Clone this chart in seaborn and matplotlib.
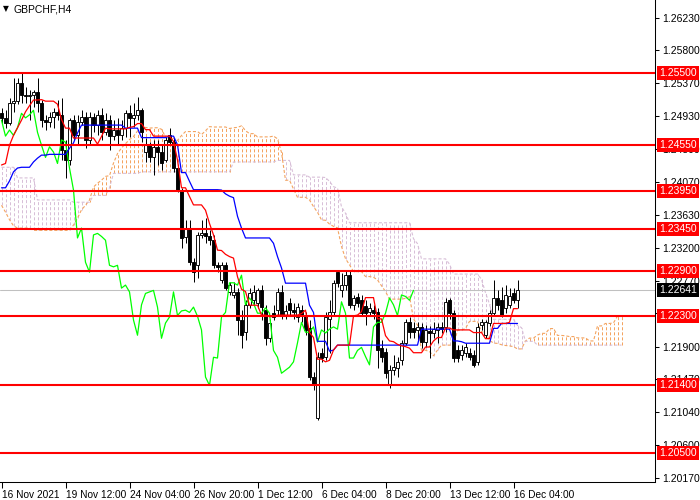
import numpy as np
import pandas as pd
import matplotlib
matplotlib.use("Agg")
import matplotlib.pyplot as plt
import seaborn as sns

sns.set_style("white")
plt.rcParams['font.family'] = ['Liberation Sans', 'DejaVu Sans']
plt.rcParams['lines.scale_dashes'] = False

# ---------------- data (GBPCHF H4) ----------------
opens = [1.2497,1.2491,1.2484,1.2510,1.2513,1.2537,1.2521,1.2520,1.2521,1.2525,
         1.2510,1.2488,1.2485,1.2492,1.2499,1.2495,1.2449,1.2435,1.2488,1.2468,
         1.2485,1.2492,1.2462,1.2492,1.2481,1.2495,1.2472,1.2488,1.2467,1.2475,
         1.2468,1.2478,1.2497,1.2491,1.2495,1.2501,1.2446,1.2455,1.2439,1.2453,
         1.2446,1.2435,1.2468,1.2459,1.2425,1.2396,1.2334,1.2346,1.2301,1.2297,
         1.2337,1.2339,1.2335,1.2330,1.2297,1.2278,1.2297,1.2262,1.2258,1.2262,
         1.2225,1.2209,1.2245,1.2251,1.2247,1.2264,1.2238,1.2201,1.2234,1.2238,
         1.2262,1.2231,1.2247,1.2238,1.2229,1.2238,1.2230,1.2214,1.2150,1.2096,
         1.2181,1.2176,1.2227,1.2235,1.2288,1.2264,1.2271,1.2284,1.2245,1.2255,
         1.2251,1.2243,1.2235,1.2238,1.2235,1.2188,1.2183,1.2139,1.2159,1.2162,
         1.2172,1.2195,1.2222,1.2214,1.2212,1.2216,1.2196,1.2210,1.2208,1.2212,
         1.2216,1.2216,1.2251,1.2234,1.2185,1.2179,1.2181,1.2181,1.2179,1.2170,
         1.2218,1.2205,1.2221,1.2234,1.2254,1.2251,1.2241,1.2245,1.2260,1.2251]
highs = [1.2504,1.2501,1.2517,1.2543,1.2543,1.2551,1.2532,1.2528,1.2528,1.2543,
         1.2514,1.2495,1.2499,1.2504,1.2514,1.2517,1.2462,1.2491,1.2495,1.2495,
         1.2501,1.2499,1.2499,1.2497,1.2501,1.2504,1.2497,1.2495,1.2488,1.2491,
         1.2488,1.2501,1.2508,1.2510,1.2518,1.2504,1.2464,1.2459,1.2462,1.2462,
         1.2455,1.2466,1.2478,1.2464,1.2429,1.2399,1.2357,1.2357,1.2307,1.2341,
         1.2357,1.2359,1.2343,1.2337,1.2301,1.2301,1.2301,1.2275,1.2275,1.2267,
         1.2238,1.2251,1.2267,1.2271,1.2267,1.2271,1.2245,1.2227,1.2245,1.2267,
         1.2271,1.2245,1.2254,1.2247,1.2247,1.2245,1.2235,1.2225,1.2156,1.2183,
         1.2188,1.2235,1.2251,1.2278,1.2291,1.2287,1.2291,1.2291,1.2258,1.2260,
         1.2258,1.2251,1.2247,1.2245,1.2241,1.2199,1.2188,1.2166,1.2179,1.2176,
         1.2199,1.2227,1.2229,1.2222,1.2222,1.2221,1.2218,1.2217,1.2222,1.2221,
         1.2222,1.2254,1.2254,1.2238,1.2192,1.2192,1.2195,1.2188,1.2185,1.2221,
         1.2227,1.2225,1.2238,1.2278,1.2264,1.2268,1.2271,1.2267,1.2267,1.2278]
lows = [1.2484,1.2478,1.2481,1.2499,1.2509,1.2510,1.2510,1.2488,1.2505,1.2499,
        1.2479,1.2475,1.2479,1.2478,1.2488,1.2435,1.2412,1.2429,1.2462,1.2455,
        1.2481,1.2451,1.2455,1.2472,1.2468,1.2462,1.2468,1.2449,1.2462,1.2455,
        1.2462,1.2466,1.2466,1.2479,1.2488,1.2459,1.2433,1.2433,1.2416,1.2429,
        1.2422,1.2433,1.2455,1.2420,1.2393,1.2320,1.2327,1.2297,1.2275,1.2280,
        1.2333,1.2327,1.2324,1.2293,1.2288,1.2274,1.2264,1.2258,1.2254,1.2205,
        1.2188,1.2199,1.2241,1.2245,1.2241,1.2225,1.2192,1.2196,1.2225,1.2231,
        1.2227,1.2227,1.2231,1.2227,1.2222,1.2222,1.2205,1.2146,1.2133,1.2093,
        1.2170,1.2172,1.2181,1.2231,1.2268,1.2255,1.2264,1.2241,1.2238,1.2242,
        1.2231,1.2218,1.2231,1.2227,1.2162,1.2170,1.2149,1.2135,1.2153,1.2150,
        1.2166,1.2192,1.2202,1.2202,1.2199,1.2188,1.2189,1.2175,1.2201,1.2195,
        1.2208,1.2209,1.2227,1.2170,1.2170,1.2172,1.2176,1.2172,1.2163,1.2166,
        1.2212,1.2202,1.2217,1.2231,1.2238,1.2229,1.2234,1.2241,1.2247,1.2241]
closes = [1.2491,1.2484,1.2510,1.2513,1.2537,1.2521,1.2520,1.2521,1.2525,1.2510,
          1.2488,1.2485,1.2492,1.2499,1.2495,1.2449,1.2435,1.2488,1.2468,1.2485,
          1.2492,1.2462,1.2492,1.2481,1.2495,1.2472,1.2488,1.2467,1.2475,1.2468,
          1.2478,1.2497,1.2491,1.2495,1.2501,1.2472,1.2455,1.2439,1.2453,1.2446,
          1.2431,1.2462,1.2459,1.2425,1.2396,1.2333,1.2346,1.2301,1.2288,1.2337,
          1.2339,1.2335,1.2330,1.2297,1.2295,1.2297,1.2267,1.2271,1.2262,1.2225,
          1.2205,1.2245,1.2260,1.2262,1.2264,1.2242,1.2201,1.2221,1.2229,1.2262,
          1.2231,1.2237,1.2238,1.2235,1.2242,1.2230,1.2212,1.2150,1.2139,1.2176,
          1.2175,1.2229,1.2235,1.2274,1.2274,1.2271,1.2284,1.2245,1.2254,1.2247,
          1.2234,1.2234,1.2241,1.2234,1.2185,1.2176,1.2155,1.2159,1.2163,1.2170,
          1.2195,1.2222,1.2209,1.2209,1.2216,1.2196,1.2212,1.2208,1.2213,1.2216,
          1.2213,1.2249,1.2234,1.2175,1.2175,1.2185,1.2189,1.2177,1.2166,1.2216,
          1.2222,1.2222,1.2234,1.2254,1.2245,1.2231,1.2258,1.2256,1.2251,1.22641]

# Ichimoku values carried in from bars before the visible window
tenkan_lead = [1.2429,1.2431,1.2455,1.2468,1.2478,1.2488,1.2499,1.2507]
kijun_lead = [1.2399,1.2399,1.2408,1.2420,1.2425,1.2426,1.2426,1.2426,1.2433,1.2438,
              1.2442,1.2442,1.2443,1.2443,1.2443,1.2443,1.2443,1.2451,1.2458,1.2471]
spanA_lead = [1.2376,1.2367,1.2357,1.2349,1.2346,1.2346,1.2346,1.2346,1.2343,1.2343,
              1.2343,1.2343,1.2343,1.2343,1.2343,1.2343,1.2343,1.2343,1.2350,1.2359,
              1.2370,1.2376,1.2383,1.2400,1.2405,1.2409]
spanB_lead = [1.2426,1.2426,1.2426,1.2426,1.2412,1.2412,1.2412,1.2412,1.2412,1.2383,
              1.2383,1.2383,1.2383,1.2383,1.2383,1.2383,1.2383,1.2383,1.2380,1.2380,
              1.2380,1.2380,1.2380,1.2389,1.2389,1.2389,1.2389,1.2399,1.2418,1.2418,
              1.2418,1.2418,1.2418,1.2418,1.2418,1.2420,1.2420,1.2420,1.2420,1.2420,
              1.2420,1.2420,1.2420,1.2420,1.2420,1.2420,1.2420,1.2420,1.2420,1.2420,
              1.2420,1.2420,1.2420,1.2420,1.2420,1.2420,1.2420,1.2420,1.2433,1.2433,
              1.2433,1.2433,1.2433,1.2433,1.2433,1.2433,1.2433,1.2433,1.2433,1.2435,
              1.2435,1.2435,1.2435,1.2416,1.2416,1.2416,1.2416]

levels = [1.2550, 1.2455, 1.2395, 1.2345, 1.2290, 1.2230, 1.2140, 1.2050]
last_price = 1.22641
price_ticks = [1.26230, 1.25800, 1.25370, 1.24930, 1.24500, 1.24070, 1.23630,
               1.23200, 1.22770, 1.22340, 1.21900, 1.21470, 1.21040, 1.20600, 1.20170]
hidden_tick_labels = [1.22340]   # fully covered by the 1.22300 level label
time_labels = ["16 Nov 2021", "19 Nov 12:00", "24 Nov 04:00", "26 Nov 20:00",
               "1 Dec 12:00", "6 Dec 04:00", "8 Dec 20:00", "13 Dec 12:00", "16 Dec 04:00"]
time_label_bars = [0, 16, 32, 48, 64, 80, 96, 112, 128]

# ---------------- Ichimoku (9, 26, 52) ----------------
o = np.array(opens); h = np.array(highs); l = np.array(lows); c = np.array(closes)
n = len(c)
bars = np.arange(n)
H = pd.Series(h); L = pd.Series(l)
tenkan = ((H.rolling(9, min_periods=1).max() + L.rolling(9, min_periods=1).min()) / 2).to_numpy()
tenkan[:len(tenkan_lead)] = tenkan_lead
kijun = ((H.rolling(26, min_periods=1).max() + L.rolling(26, min_periods=1).min()) / 2).to_numpy()
kijun[:len(kijun_lead)] = kijun_lead
spanA = np.concatenate([spanA_lead, (tenkan + kijun) / 2])
spanB_calc = ((H.rolling(52).max() + L.rolling(52).min()) / 2).to_numpy()[51:]
spanB = np.concatenate([spanB_lead, spanB_calc])
cloud_x = np.arange(len(spanA))
chikou_x = np.arange(n - 26)
chikou = c[26:]

# ---------------- figure ----------------
W, Hh = 700, 500
fig = plt.figure(figsize=(7, 5), dpi=100)
ax_right_px, ax_bottom_px = 655, 482
ax = fig.add_axes([0, (Hh - ax_bottom_px) / Hh, ax_right_px / W, ax_bottom_px / Hh])
ax.set_facecolor('white')
x0 = -0.375                         # bar centres fall on pixel centres (4 px per bar)
ax.set_xlim(x0, x0 + ax_right_px / 4)
ax.set_ylim(1.26461 - ax_bottom_px / 7600, 1.26461)

sandy = '#F4A460'
thistle = '#D8BFD8'
dash = (0, (2.2, 1.45))

# cloud hatch (vertical dotted strokes between Span A and Span B)
bull = spanA >= spanB
lo_c = np.minimum(spanA, spanB)
hi_c = np.maximum(spanA, spanB)
for mask, col in [(bull, sandy), (~bull, thistle)]:
    ax.vlines(cloud_x[mask], lo_c[mask], hi_c[mask], colors=col, linewidth=0.72,
              linestyles=[dash], zorder=1)
sns.lineplot(x=cloud_x, y=spanA, ax=ax, color=sandy, linewidth=0.8,
             linestyle=dash, zorder=1.2)
sns.lineplot(x=cloud_x, y=spanB, ax=ax, color=thistle, linewidth=0.8,
             linestyle=dash, zorder=1.2)

# current price line
ax.axhline(last_price, color='#C0C0C0', linewidth=0.75, zorder=1.5)

# candles
ax.vlines(bars, l, h, colors='black', linewidth=0.72, zorder=3)
up = c >= o
ax.bar(bars, np.abs(c - o), bottom=np.minimum(o, c), width=0.74,
       color=np.where(up, 'white', 'black'), edgecolor='black', linewidth=0.65, zorder=4)

# Ichimoku lines
sns.lineplot(x=chikou_x, y=chikou, ax=ax, color='#00FF00', linewidth=0.9, zorder=5)
sns.lineplot(x=bars, y=kijun, ax=ax, color='#0000FF', linewidth=0.9, zorder=5)
sns.lineplot(x=bars, y=tenkan, ax=ax, color='#FF0000', linewidth=0.9, zorder=5)

# horizontal levels
for lv in levels:
    ax.axhline(lv, color='#FF0000', linewidth=1.5, zorder=6)

# axes styling
for s in ['top', 'left']:
    ax.spines[s].set_visible(False)
for s in ['right', 'bottom']:
    ax.spines[s].set_color('black')
    ax.spines[s].set_linewidth(0.75)
ax.grid(False)
ax.set_xlabel(''); ax.set_ylabel('')

ax.yaxis.tick_right()
ax.set_yticks(price_ticks)
ax.set_yticklabels(["" if v in hidden_tick_labels else f"{v:.5f}" for v in price_ticks])
ax.tick_params(axis='y', direction='out', length=3, width=0.75, pad=2.5,
               labelsize=7.5, colors='black', right=True, left=False)

ax.set_xticks(time_label_bars)
ax.set_xticklabels(time_labels)
ax.tick_params(axis='x', direction='out', length=4, width=0.75, pad=2,
               labelsize=7.3, colors='black', bottom=True)
for lbl in ax.get_xticklabels():
    lbl.set_horizontalalignment('left')

# price labels on the scale
ytr = ax.get_yaxis_transform()
box_x = 1.0 + 4 / ax_right_px
for lv in levels:
    ax.text(box_x, lv, f"{lv:.5f}", transform=ytr, ha='left', va='center',
            fontsize=7.5, color='white', zorder=10, clip_on=False,
            bbox=dict(boxstyle='square,pad=0.18', facecolor='#FF0000', edgecolor='none'))
ax.text(box_x, last_price, f"{last_price:.5f}", transform=ytr, ha='left', va='center',
        fontsize=7.5, color='white', zorder=10, clip_on=False,
        bbox=dict(boxstyle='square,pad=0.18', facecolor='black', edgecolor='none'))

# chart caption
fig.text(3 / W, 1 - 9 / Hh, "▼", fontsize=5.5, color='black', va='center', ha='left',
         family=['DejaVu Sans'])
fig.text(14 / W, 1 - 9 / Hh, "GBPCHF,H4", fontsize=7.5, color='black', va='center', ha='left')

fig.savefig("out.png", dpi=100, facecolor='white')
